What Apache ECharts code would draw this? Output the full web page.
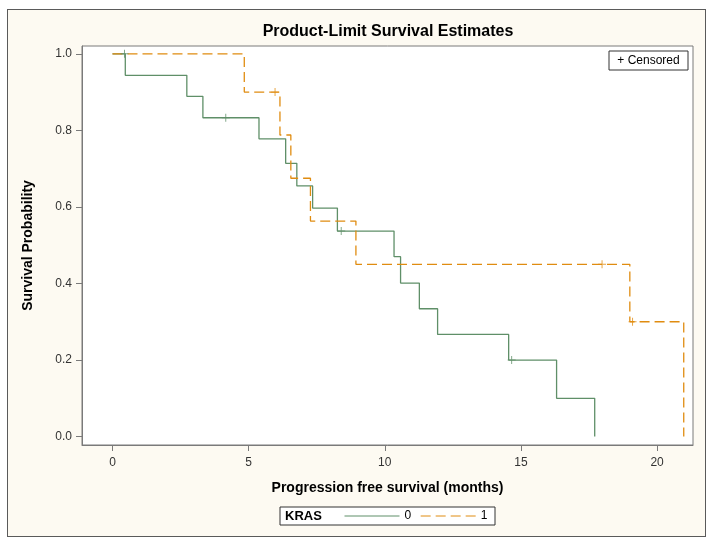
<!DOCTYPE html>
<html>
<head>
<meta charset="utf-8">
<script src="https://cdn.jsdelivr.net/npm/echarts@6/dist/echarts.min.js"></script>
<style>
  html, body { margin: 0; padding: 0; background: #ffffff; }
  #frame { position: absolute; left: 7px; top: 9px; width: 697px; height: 526px; border: 1px solid #5a5a5a; background: #fdfaf2; }
  #chart { position: absolute; left: 0; top: 0; width: 713px; height: 544px; }
</style>
</head>
<body>
<div id="frame"></div>
<div id="chart"></div>
<script>
// ---- data ----
const titleText = 'Product-Limit Survival Estimates';
const xAxisName = 'Progression free survival (months)';
const yAxisName = 'Survival Probability';
const xTicks = [0, 5, 10, 15, 20];
const yTicks = [0, 0.2, 0.4, 0.6, 0.8, 1.0];
const groupTitle = 'KRAS';
const groupNames = ['0', '1'];

// KRAS = 0 (solid green)
const kras0Times = [0, 0.47, 2.73, 3.32, 5.38, 6.36, 6.77, 7.35, 8.26, 10.34, 10.58, 11.27, 11.94, 14.55, 16.31, 17.71];
const kras0Surv  = [1.0, 0.944, 0.889, 0.833, 0.778, 0.714, 0.655, 0.597, 0.537, 0.470, 0.401, 0.334, 0.267, 0.200, 0.100, 0.0];
const kras0CensorTimes = [0.44, 4.16, 8.40, 14.66];
const kras0CensorSurv  = [1.0, 0.833, 0.537, 0.200];

// KRAS = 1 (dashed orange)
const kras1Times = [0, 4.84, 6.15, 6.55, 7.27, 8.94, 19.0, 20.98];
const kras1Surv  = [1.0, 0.900, 0.788, 0.675, 0.563, 0.450, 0.300, 0.0];
const kras1CensorTimes = [5.97, 17.98, 19.1];
const kras1CensorSurv  = [0.900, 0.450, 0.300];

const zip = (a, b) => a.map((v, i) => [v, b[i]]);

const green = '#5f8f68';
const orange = '#e08c10';
const plusPath = 'path://M-0.12,-1H0.12V-0.12H1V0.12H0.12V1H-0.12V0.12H-1V-0.12H-0.12Z';
const fontFam = '"Liberation Sans", Arial, sans-serif';

const chart = echarts.init(document.getElementById('chart'), null, { renderer: 'canvas' });
chart.setOption({
  backgroundColor: 'transparent',
  animation: false,
  textStyle: { fontFamily: fontFam },
  title: {
    text: titleText,
    left: 383, top: 19,
    textAlign: 'center',
    textStyle: { fontSize: 16, fontWeight: 'bold', color: '#000', fontFamily: fontFam }
  },
  grid: {
    left: 82, right: 20, top: 46, bottom: 99,
    show: true, backgroundColor: '#ffffff', borderColor: '#7a7a7a', borderWidth: 1
  },
  xAxis: {
    type: 'value',
    min: -1.12, max: 21.32,
    name: xAxisName, nameLocation: 'middle', nameGap: 36,
    nameTextStyle: { fontSize: 14, fontWeight: 'bold', color: '#000', fontFamily: fontFam },
    axisLine: { show: true, onZero: false, lineStyle: { color: '#7a7a7a' } },
    axisTick: { show: true, inside: false, length: 6, customValues: xTicks, lineStyle: { color: '#7a7a7a' } },
    axisLabel: { customValues: xTicks, margin: 12, fontSize: 12, color: '#333', fontFamily: fontFam },
    splitLine: { show: false }
  },
  yAxis: {
    type: 'value',
    min: -0.022, max: 1.0205,
    name: yAxisName, nameLocation: 'middle', nameGap: 47,
    nameTextStyle: { fontSize: 14, fontWeight: 'bold', color: '#000', fontFamily: fontFam },
    axisLine: { show: true, onZero: false, lineStyle: { color: '#7a7a7a' } },
    axisTick: { show: true, inside: false, length: 6, customValues: yTicks, lineStyle: { color: '#7a7a7a' } },
    axisLabel: { customValues: yTicks, margin: 10, fontSize: 12, color: '#333', fontFamily: fontFam,
      formatter: v => v.toFixed(1) },
    splitLine: { show: false }
  },
  legend: {
    data: groupNames,
    left: 344, top: 510, padding: 0,
    itemWidth: 55, itemHeight: 14, itemGap: 9,
    itemStyle: { color: 'rgba(0,0,0,0)', borderWidth: 0, opacity: 0 },
    lineStyle: { width: 1 },
    textStyle: { fontSize: 12, color: '#000', fontFamily: fontFam },
    selectedMode: false
  },
  graphic: [
    { type: 'rect', shape: { x: 280, y: 507, width: 215, height: 18 }, style: { fill: '#ffffff', stroke: '#333', lineWidth: 1 }, z: -1, silent: true },
    { type: 'text', x: 285, y: 516, style: { text: groupTitle, font: 'bold 13px ' + fontFam, fill: '#000', verticalAlign: 'middle' }, silent: true },
    { type: 'rect', shape: { x: 609, y: 51, width: 79, height: 19 }, style: { fill: '#ffffff', stroke: '#333', lineWidth: 1 }, z: 10, silent: true },
    { type: 'text', x: 648.5, y: 61, style: { text: '+ Censored', font: '12px ' + fontFam, fill: '#000', align: 'center', verticalAlign: 'middle' }, z: 11, silent: true }
  ],
  series: [
    {
      name: groupNames[0], type: 'line', step: 'end', showSymbol: false, symbol: 'none',
      data: zip(kras0Times, kras0Surv),
      lineStyle: { color: green, width: 1.3 }, itemStyle: { color: green }, z: 2
    },
    {
      name: groupNames[1], type: 'line', step: 'end', showSymbol: false, symbol: 'none',
      data: zip(kras1Times, kras1Surv),
      lineStyle: { color: orange, width: 1.3, type: [10, 5] }, itemStyle: { color: orange }, z: 3
    },
    {
      name: 'c0', type: 'scatter', symbol: plusPath, symbolSize: 8,
      data: zip(kras0CensorTimes, kras0CensorSurv),
      itemStyle: { color: green }, z: 4
    },
    {
      name: 'c1', type: 'scatter', symbol: plusPath, symbolSize: 8,
      data: zip(kras1CensorTimes, kras1CensorSurv),
      itemStyle: { color: orange }, z: 4
    }
  ]
});
</script>
</body>
</html>
